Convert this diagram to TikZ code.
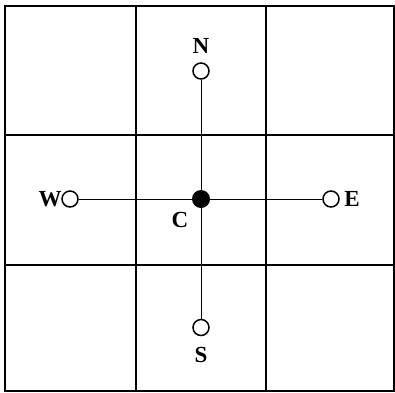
\documentclass[tikz,border=0pt]{standalone}
\usepackage{fontspec}
\setmainfont{Liberation Serif}
\begin{document}
\begin{tikzpicture}[x=1pt,y=-1pt,
  grid/.style={line width=2pt},
  link/.style={line width=1pt},
  opendot/.style={circle,draw,line width=1.5pt,fill=white,minimum size=16pt,inner sep=0pt},
  fulldot/.style={circle,fill=black,minimum size=18pt,inner sep=0pt},
  lbl/.style={font=\bfseries\fontsize{23}{23}\selectfont,inner sep=0pt}]
\useasboundingbox (0,0) rectangle (395,392);
\fill[white] (0,0) rectangle (395,392);
% grid
\draw[grid] (5,5.5) rectangle (394,391);
\draw[grid] (135.5,5.5) -- (135.5,391);
\draw[grid] (265.7,5.5) -- (265.7,391);
\draw[grid] (5,135) -- (394,135);
\draw[grid] (5,264.5) -- (394,264.5);
% dots
\node[fulldot] (c) at (201,199) {};
\node[opendot] (n) at (201,71) {};
\node[opendot] (s) at (201,327.5) {};
\node[opendot] (w) at (70,199) {};
\node[opendot] (e) at (331,199) {};
\draw[link] (c) -- (n);
\draw[link] (c) -- (s);
\draw[link] (c) -- (w);
\draw[link] (c) -- (e);
% labels
\node[lbl] (ln) at (201,46) {N};
\node[lbl] (ls) at (201,355) {S};
\node[lbl] (lw) at (50,199) {W};
\node[lbl] (le) at (352,199) {E};
\node[lbl] (lc) at (180,220) {C};
\end{tikzpicture}
\end{document}
